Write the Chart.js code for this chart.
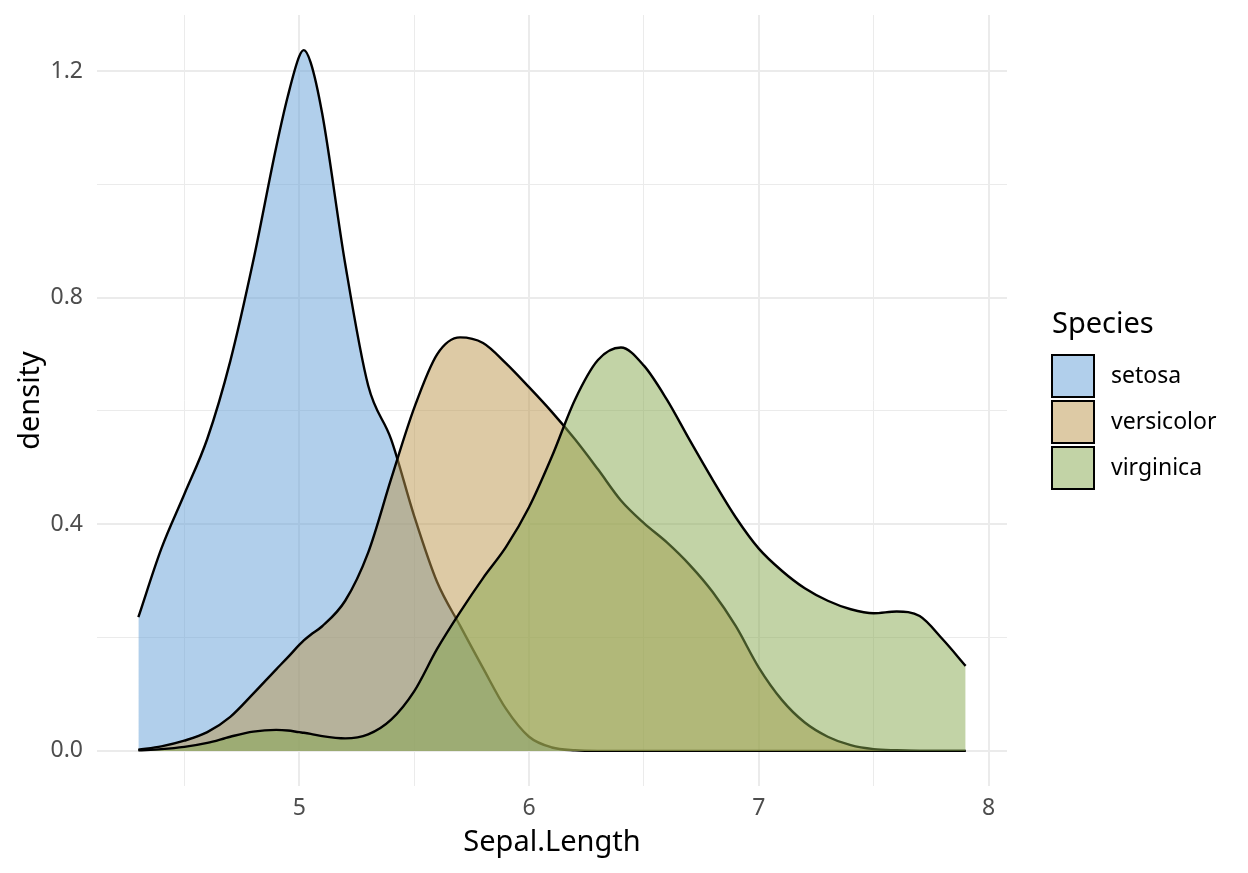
<!DOCTYPE html>
<html>
<head>
<meta charset="utf-8">
<title>Sepal.Length density</title>
<script src="https://cdn.jsdelivr.net/npm/chart.js@4.4.1/dist/chart.umd.min.js"></script>
<style>
  body { margin: 0; background: #fff; }
  canvas { display: block; }
</style>
</head>
<body>
<canvas id="myChart" width="1248" height="873"></canvas>
<script>
// ----------- Data ----------- //
const sepalLength = [4.3, 4.4, 4.5, 4.6, 4.7, 4.8, 4.9, 4.95, 5.0, 5.02, 5.05, 5.1, 5.2, 5.3, 5.4, 5.5,
    5.6, 5.7, 5.8, 5.9, 6.0, 6.1, 6.2, 6.3, 6.4, 6.5, 6.6, 6.7, 6.8, 6.9, 7.0,
    7.1, 7.2, 7.3, 7.4, 7.5, 7.6, 7.7, 7.8, 7.9];

const setosa = [0.236, 0.357, 0.453, 0.551, 0.688, 0.865, 1.066, 1.155, 1.226, 1.237, 1.215, 1.125, 0.86, 0.645, 0.55, 0.415,
    0.298, 0.221, 0.146, 0.074, 0.025, 0.006, 0.001, 0, 0, 0, 0, 0, 0, 0, 0,
    0, 0, 0, 0, 0, 0, 0, 0, 0];

const versicolor = [0.002, 0.008, 0.018, 0.033, 0.06, 0.101, 0.144, 0.165, 0.187, 0.195, 0.205, 0.22, 0.265, 0.35, 0.48, 0.605,
    0.70, 0.73, 0.72, 0.684, 0.642, 0.598, 0.55, 0.497, 0.442, 0.402, 0.368, 0.328, 0.28, 0.22, 0.147,
    0.09, 0.05, 0.025, 0.01, 0.003, 0.001, 0, 0, 0];

const virginica = [0.001, 0.003, 0.007, 0.014, 0.025, 0.034, 0.037, 0.036, 0.033, 0.032, 0.03, 0.026, 0.022, 0.029, 0.055, 0.105,
    0.18, 0.245, 0.305, 0.36, 0.43, 0.52, 0.62, 0.69, 0.712, 0.68, 0.62, 0.548, 0.478, 0.412, 0.357,
    0.318, 0.287, 0.265, 0.25, 0.243, 0.246, 0.238, 0.197, 0.15];

const species = ['setosa', 'versicolor', 'virginica'];
const fills = ['rgba(100, 160, 215, 0.5)', 'rgba(188, 150, 75, 0.5)', 'rgba(133, 168, 77, 0.5)'];

const xGrid = [4.5, 5, 5.5, 6, 6.5, 7, 7.5, 8];
const xLabels = [5, 6, 7, 8];
const yGrid = [0, 0.2, 0.4, 0.6, 0.8, 1.0, 1.2];
const yLabels = [0, 0.4, 0.8, 1.2];

const FONT = "'Noto Sans', 'DejaVu Sans', sans-serif";
const GRID = '#ebebeb';
const TICK_COLOR = '#4d4d4d';

const toPoints = ys => sepalLength.map((x, i) => ({ x: x, y: ys[i] }));

// ----------- Legend (ggplot style, drawn on canvas) ----------- //
const speciesLegend = {
    id: 'speciesLegend',
    afterDraw(chart) {
        const ctx = chart.ctx;
        const left = 1052, top = 355, size = 42, step = 46;
        ctx.save();
        ctx.fillStyle = '#000';
        ctx.font = `29px ${FONT}`;
        ctx.textAlign = 'left';
        ctx.textBaseline = 'middle';
        ctx.fillText('Species', left, 325);
        chart.data.datasets.forEach((ds, i) => {
            const y = top + i * step;
            ctx.fillStyle = ds.backgroundColor;
            ctx.fillRect(left, y, size, size);
            ctx.strokeStyle = '#000';
            ctx.lineWidth = 2;
            ctx.strokeRect(left, y, size, size);
            ctx.fillStyle = '#000';
            ctx.font = `23px ${FONT}`;
            ctx.fillText(ds.label, left + 59, y + size / 2);
        });
        ctx.restore();
    }
};

// ----------- Chart js Stuff ----------- //
const ctx = document.getElementById('myChart');
const chart = new Chart(ctx, {
    type: 'line',
    data: {
        datasets: [setosa, versicolor, virginica].map((ys, i) => ({
            label: species[i],
            data: toPoints(ys),
            backgroundColor: fills[i],
            borderColor: '#000',
            borderWidth: 2.4,
            fill: 'origin',
            pointRadius: 0,
            cubicInterpolationMode: 'monotone',
            order: 3 - i   // later species drawn on top, like ggplot
        }))
    },
    options: {
        responsive: false,
        animation: false,
        devicePixelRatio: 1,
        layout: { padding: { top: 15, right: 241, left: 0, bottom: 0 } },
        plugins: {
            legend: { display: false },
            tooltip: { enabled: false }
        },
        scales: {
            x: {
                type: 'linear',
                min: 4.12,
                max: 8.08,
                afterBuildTicks: scale => { scale.ticks = xGrid.map(v => ({ value: v })); },
                afterFit: scale => {
                    scale.height = 87;
                    scale.paddingLeft = 0;
                    scale.paddingRight = 0;
                },
                border: { display: false },
                grid: {
                    color: GRID,
                    drawTicks: false,
                    lineWidth: c => xLabels.includes(c.tick.value) ? 2 : 1
                },
                ticks: {
                    padding: 9,
                    color: TICK_COLOR,
                    font: { family: FONT, size: 23 },
                    callback: v => xLabels.includes(v) ? String(v) : ''
                },
                title: {
                    display: true,
                    text: 'Sepal.Length',
                    color: '#000',
                    font: { family: FONT, size: 29 },
                    padding: { top: 0, bottom: 13 }
                }
            },
            y: {
                type: 'linear',
                min: -0.062,
                max: 1.299,
                afterBuildTicks: scale => { scale.ticks = yGrid.map(v => ({ value: v })); },
                afterFit: scale => {
                    scale.width = 97;
                    scale.paddingTop = 0;
                    scale.paddingBottom = 0;
                },
                border: { display: false },
                grid: {
                    color: GRID,
                    drawTicks: false,
                    lineWidth: c => yLabels.includes(c.tick.value) ? 2 : 1
                },
                ticks: {
                    padding: 14,
                    color: TICK_COLOR,
                    font: { family: FONT, size: 23 },
                    callback: v => yLabels.includes(v) ? v.toFixed(1) : ''
                },
                title: {
                    display: true,
                    text: 'density',
                    color: '#000',
                    font: { family: FONT, size: 29 },
                    padding: { top: 13, bottom: 0 }
                }
            }
        }
    },
    plugins: [speciesLegend]
});
</script>
</body>
</html>
